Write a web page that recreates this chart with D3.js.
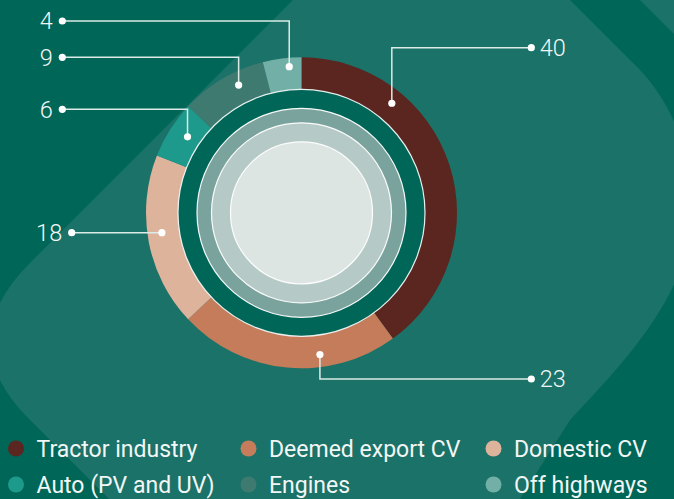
<!DOCTYPE html>
<html>
<head>
<meta charset="utf-8">
<script src="https://cdn.jsdelivr.net/npm/d3@7/dist/d3.min.js"></script>
<style>
  html, body { margin: 0; padding: 0; background: #006658; overflow: hidden; }
  svg { display: block; }
  text { font-family: Roboto, "Noto Sans", sans-serif; }
</style>
</head>
<body>
<svg id="chart" width="674" height="499"></svg>
<script>
// ---- data ----
const categories = ["Tractor industry", "Deemed export CV", "Domestic CV", "Auto (PV and UV)", "Engines", "Off highways"];
const values = [40, 23, 18, 6, 9, 4];
const colors = ["#5b2620", "#c47c5a", "#deb39c", "#1d9a8b", "#3f7a71", "#72b0a7"];

// ---- layout (annotation geometry, not data) ----
const W = 674, H = 499;
const cx = 301.5, cy = 212.8;
const outerR = 155.5, innerR = 123.5;
const rings = [
  { r: 104.5, fill: "#7ba39d" },
  { r: 90,    fill: "#b5cac6" },
  { r: 71,    fill: "#dde5e2" }
];
// leader geometry per category: anchor angle (deg, clockwise from 12 o'clock), anchor radius, elbow y, end x
const leaders = [
  { angle: 39.5,  r: 142,   y: 47.7,  x: 531.3, side: "right" },
  { angle: 172.6, r: 143,   y: 379,   x: 531.3, side: "right" },
  { angle: 261.9, r: 141,   y: 232.7, x: 71.7,  side: "left" },
  { angle: 303.7, r: 137,   y: 109.3, x: 62.3,  side: "left" },
  { angle: 333.8, r: 142.4, y: 57.3,  x: 62.3,  side: "left" },
  { angle: 355.2, r: 146.6, y: 21,    x: 62.3,  side: "left" }
];

const svg = d3.select("#chart");

// ---- background decorative bands ----
svg.append("rect").attr("width", W).attr("height", H).attr("fill", "#006658");
const band = d3.path();
band.moveTo(333, -40);
band.lineTo(29.3, 263.7);
band.quadraticCurveTo(-48.5, 341.5, 29.3, 419.3);
band.lineTo(210, 600);
band.lineTo(450, 610);
band.lineTo(520, 499);
band.lineTo(570, 420);
band.bezierCurveTo(625, 362, 682, 300, 690, 230);
band.bezierCurveTo(698, 160, 672, 100, 633, 63);
band.lineTo(570, 0);
band.lineTo(530, -40);
band.closePath();
svg.append("path").attr("d", band.toString()).attr("fill", "#1b7268");

const band2 = d3.path();
band2.moveTo(600, -40);
band2.lineTo(700, 60);
band2.lineTo(720, -40);
band2.closePath();
svg.append("path").attr("d", band2.toString()).attr("fill", "#1b7268");

// ---- donut ----
const g = svg.append("g").attr("transform", `translate(${cx},${cy})`);
const pie = d3.pie().sort(null).value(d => d.value).startAngle(0).endAngle(2 * Math.PI);
const arc = d3.arc().innerRadius(innerR).outerRadius(outerR);
const table = categories.map((c, i) => ({ name: c, value: values[i], color: colors[i] }));

g.selectAll("path.slice")
  .data(pie(table))
  .join("path")
  .attr("class", "slice")
  .attr("d", arc)
  .attr("fill", d => d.data.color);

// inner dark ring + white border
g.append("circle").attr("r", innerR).attr("fill", "#006658")
  .attr("stroke", "#ffffff").attr("stroke-width", 1.2).attr("stroke-opacity", 0.9);
rings.forEach(rg => {
  g.append("circle").attr("r", rg.r).attr("fill", rg.fill)
    .attr("stroke", "#ffffff").attr("stroke-width", 1.2).attr("stroke-opacity", 0.95);
});

// ---- leaders and value labels ----
const lineColor = "#dcebe8";
const lab = svg.append("g");
table.forEach((d, i) => {
  const L = leaders[i];
  const a = L.angle * Math.PI / 180;
  const ax = cx + L.r * Math.sin(a);
  const ay = cy - L.r * Math.cos(a);
  const pts = [[ax, ay], [ax, L.y], [L.x, L.y]];
  lab.append("path")
    .attr("d", d3.line()(pts))
    .attr("fill", "none")
    .attr("stroke", lineColor)
    .attr("stroke-width", 1.5);
  lab.append("circle").attr("cx", ax).attr("cy", ay).attr("r", 3.6).attr("fill", "#ffffff");
  lab.append("circle").attr("cx", L.x).attr("cy", L.y).attr("r", 3.6).attr("fill", "#ffffff");
  lab.append("text")
    .attr("x", L.side === "right" ? L.x + 8.5 : L.x - 9.5)
    .attr("y", L.y + 8.4)
    .attr("text-anchor", L.side === "right" ? "start" : "end")
    .attr("fill", "#f2f7f6")
    .attr("font-size", 23.5)
    .attr("font-weight", 300)
    .text(d.value);
});

// ---- legend ----
const legCols = [16, 248.5, 493.5];
const legRows = [448.5, 484.5];
const leg = svg.append("g");
table.forEach((d, i) => {
  const col = i % 3, row = Math.floor(i / 3);
  const x = legCols[col], y = legRows[row];
  leg.append("circle").attr("cx", x).attr("cy", y).attr("r", 8).attr("fill", d.color);
  leg.append("text")
    .attr("x", x + 20.5)
    .attr("y", y + 8.3)
    .attr("fill", "#f2f7f6")
    .attr("font-size", 23)
    .attr("font-weight", 400)
    .text(d.name);
});
</script>
</body>
</html>
